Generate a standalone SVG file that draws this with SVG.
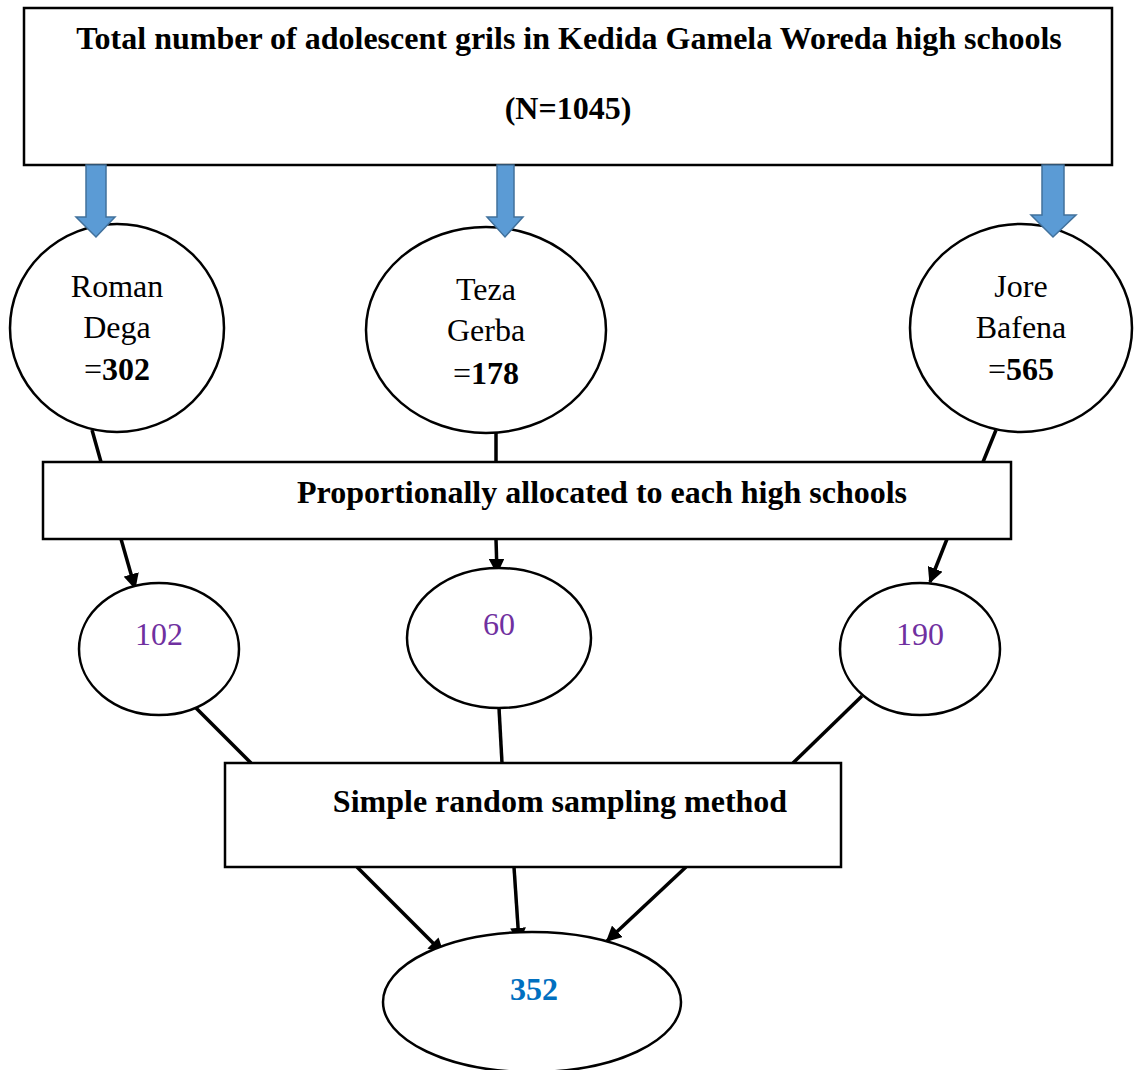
<svg xmlns="http://www.w3.org/2000/svg" width="1135" height="1070" viewBox="0 0 1135 1070">
<defs>
<style>
.box{fill:#fff;stroke:#000;stroke-width:2.5}
.node{fill:#fff;stroke:#000;stroke-width:2.5}
.t{font-family:"Liberation Serif","Times New Roman",serif;fill:#000}
.b{font-weight:bold}
.big{font-size:32px}
.e{font-size:32px}
.purple{fill:#7030a0}
.blue{fill:#0070c0}
.ln{stroke:#000;stroke-width:3.5;fill:none}
.blk{fill:#5b9bd5;stroke:#41719c;stroke-width:1.5}
</style>
<marker id="ah" viewBox="0 0 10 10" refX="9" refY="5" markerWidth="4.5" markerHeight="4.5" orient="auto" markerUnits="strokeWidth">
<path d="M0,0 L10,5 L0,10 z" fill="#000"/>
</marker>
</defs>
<rect width="1135" height="1070" fill="#fff"/>

<g id="connectors">
<line class="ln" x1="92" y1="430" x2="101" y2="462"/>
<line class="ln" x1="496" y1="433" x2="496" y2="462"/>
<line class="ln" x1="996" y1="430" x2="983" y2="462"/>
<line class="ln" x1="121" y1="539" x2="135" y2="588" marker-end="url(#ah)"/>
<line class="ln" x1="496" y1="539" x2="497" y2="573" marker-end="url(#ah)"/>
<line class="ln" x1="947" y1="539" x2="930" y2="582" marker-end="url(#ah)"/>
<line class="ln" x1="196" y1="708" x2="251" y2="763"/>
<line class="ln" x1="499" y1="708" x2="502" y2="763"/>
<line class="ln" x1="862" y1="696" x2="793" y2="763"/>
<line class="ln" x1="357" y1="867" x2="443" y2="953" marker-end="url(#ah)"/>
<line class="ln" x1="514" y1="867" x2="519" y2="942" marker-end="url(#ah)"/>
<line class="ln" x1="686" y1="867" x2="607" y2="941" marker-end="url(#ah)"/>
</g>

<g id="total">
<rect class="box" x="24" y="8" width="1088" height="157"/>
<text class="t b big" x="569" y="49" text-anchor="middle">Total number of adolescent grils in Kedida Gamela Woreda high schools</text>
<text class="t b big" x="568" y="119" text-anchor="middle">(N=1045)</text>
</g>

<g id="roman">
<ellipse class="node" cx="117" cy="328" rx="107" ry="104"/>
<text class="t e" x="117" y="297" text-anchor="middle">Roman</text>
<text class="t e" x="117" y="338" text-anchor="middle">Dega</text>
<text class="t e" x="117" y="380" text-anchor="middle">=<tspan class="b">302</tspan></text>
</g>

<g id="teza">
<ellipse class="node" cx="486" cy="330" rx="120" ry="103"/>
<text class="t e" x="486" y="300" text-anchor="middle">Teza</text>
<text class="t e" x="486" y="341" text-anchor="middle">Gerba</text>
<text class="t e" x="486" y="384" text-anchor="middle">=<tspan class="b">178</tspan></text>
</g>

<g id="jore">
<ellipse class="node" cx="1021" cy="328" rx="111" ry="104"/>
<text class="t e" x="1021" y="297" text-anchor="middle">Jore</text>
<text class="t e" x="1021" y="338" text-anchor="middle">Bafena</text>
<text class="t e" x="1021" y="380" text-anchor="middle">=<tspan class="b">565</tspan></text>
</g>

<g id="proportional">
<rect class="box" x="43" y="462" width="968" height="77"/>
<text class="t b big" x="602" y="503" text-anchor="middle">Proportionally allocated to each high schools</text>
</g>

<g id="n102">
<ellipse class="node" cx="159" cy="649" rx="80" ry="66"/>
<text class="t e purple" x="159" y="645" text-anchor="middle">102</text>
</g>

<g id="n60">
<ellipse class="node" cx="499" cy="638" rx="92" ry="70"/>
<text class="t e purple" x="499" y="635" text-anchor="middle">60</text>
</g>

<g id="n190">
<ellipse class="node" cx="920" cy="649" rx="80" ry="66"/>
<text class="t e purple" x="920" y="645" text-anchor="middle">190</text>
</g>

<g id="srs">
<rect class="box" x="225" y="763" width="616" height="104"/>
<text class="t b big" x="560" y="812" text-anchor="middle">Simple random sampling method</text>
</g>

<g id="n352">
<ellipse class="node" cx="532" cy="1002" rx="149" ry="70"/>
<text class="t b e blue" x="534" y="1000" text-anchor="middle">352</text>
</g>

<g id="block-arrows">
<path class="blk" d="M86,165 H106 V217 H115 L96,237 L76,217 H86 Z"/>
<path class="blk" d="M497,165 H514 V217 H523 L505,237 L487,217 H497 Z"/>
<path class="blk" d="M1042,165 H1064 V215 H1076 L1053,237 L1031,215 H1042 Z"/>
</g>
</svg>
